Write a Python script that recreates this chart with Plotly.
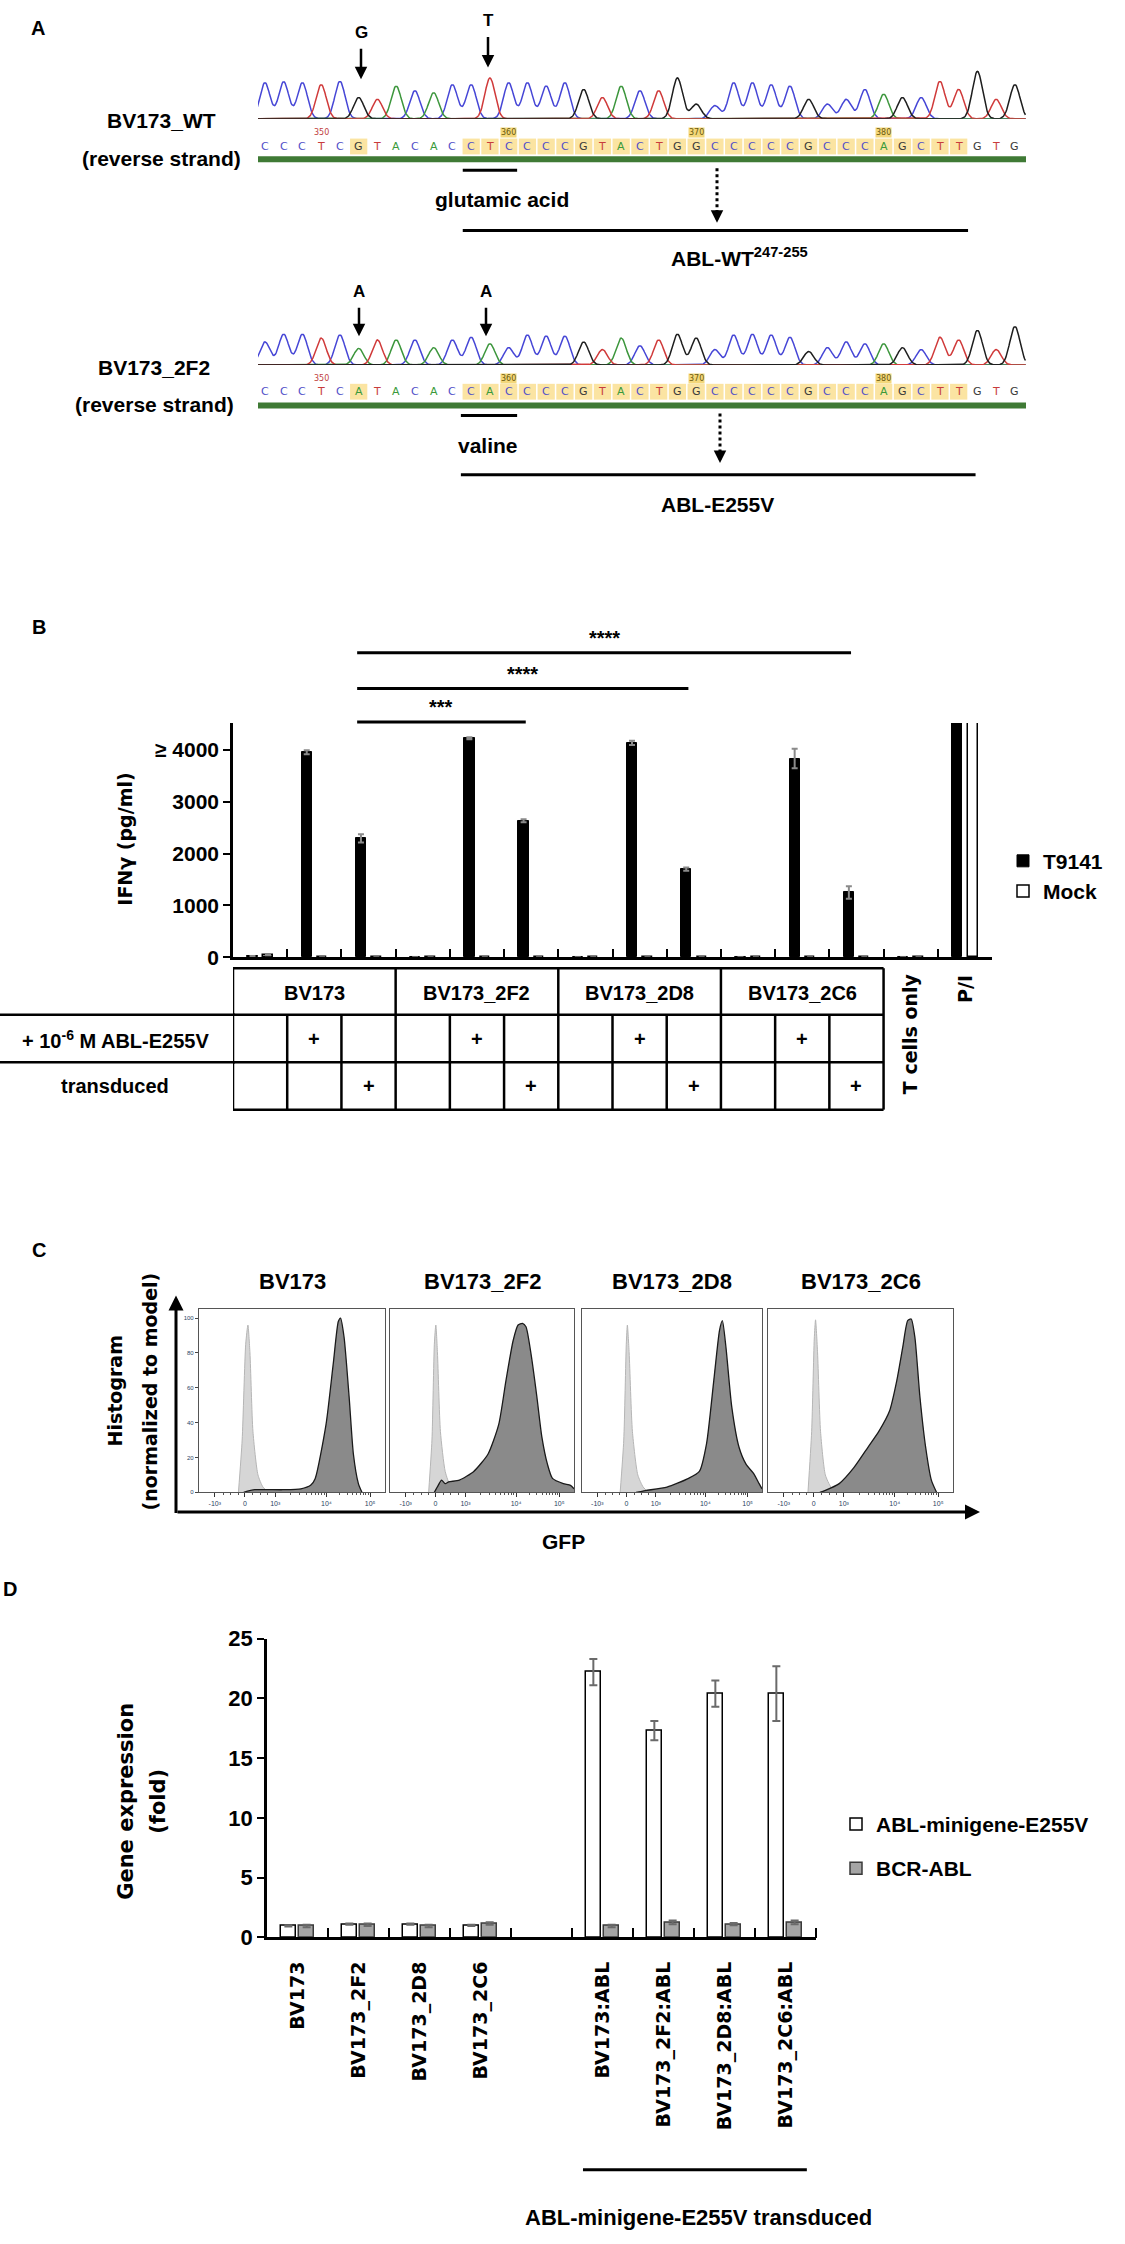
import numpy as np
import plotly.graph_objects as go

W, H = 1125, 2244


def fx(p):
    return p / W


def fy(p):
    return 1 - p / H


FONT = "Liberation Sans, Arial, sans-serif"
WIDE = "DejaVu Sans, Verdana, sans-serif"

# ---------------- A: sequencing traces
SEQ_WT = "CCCTCGTACACCTCCCCGTACTGGCCCCCGCCCAGCTTGTG"
SEQ_2F2 = "CCCTCATACACCACCCCGTACTGGCCCCCGCCCAGCTTGTG"
PEAKS_WT = [0.76, 0.78, 0.76, 0.72, 0.79, 0.45, 0.41, 0.69, 0.59, 0.55,
            0.72, 0.72, 0.86, 0.76, 0.76, 0.69, 0.76, 0.62, 0.45, 0.69,
            0.59, 0.59, 0.86, 0.31, 0.28, 0.76, 0.76, 0.72, 0.69, 0.41,
            0.31, 0.41, 0.62, 0.52, 0.45, 0.45, 0.79, 0.62, 1.0, 0.41, 0.72]
PEAKS_2F2 = [0.6, 0.8, 0.8, 0.7, 0.78, 0.43, 0.65, 0.65, 0.65, 0.45,
             0.65, 0.72, 0.55, 0.45, 0.78, 0.75, 0.75, 0.6, 0.4, 0.7,
             0.5, 0.65, 0.8, 0.7, 0.4, 0.78, 0.8, 0.78, 0.72, 0.35,
             0.45, 0.6, 0.55, 0.55, 0.45, 0.4, 0.72, 0.65, 0.9, 0.4, 1.0]
HIGHLIGHT = [5] + list(range(11, 38))
POS_LABELS = {3: "350", 13: "360", 23: "370", 33: "380"}
CODON = (11, 13)
EPITOPE = (11, 37)

BASE_LINE = {"A": "#3c963c", "C": "#4646d6", "G": "#1e1e1e", "T": "#d03a3a"}
BASE_TEXT = {"A": "#3a9a3a", "C": "#5050c8", "G": "#3a3a3a", "T": "#c83c3c"}

# ---------------- B: IFN-gamma release
IFN_T9141 = [20, 3950, 2290, 0, 4220, 2630, 0, 4130, 1700, 0, 3830, 1250, 0, 9000]
IFN_T9141_ERR = [5, 40, 80, 0, 20, 30, 0, 40, 30, 0, 190, 120, 0, 0]
IFN_MOCK = [45, 0, 0, 0, 0, 0, 0, 0, 0, 0, 0, 0, 0, 9000]
IFN_MOCK_ERR = [5, 0, 0, 0, 0, 0, 0, 0, 0, 0, 0, 0, 0, 0]
CELL_LINES = ["BV173", "BV173_2F2", "BV173_2D8", "BV173_2C6"]
PEPTIDE_ROW = ["", "+", ""] * 4
TRANSDUCED_ROW = ["", "", "+"] * 4
SIG = [(2, 5, "***"), (2, 8, "****"), (2, 11, "****")]

# ---------------- C: GFP histograms (logicle display position, % of max)
GFP_TITLES = ["BV173", "BV173_2F2", "BV173_2D8", "BV173_2C6"]
GFP_TICKS = [0.085, 0.247, 0.41, 0.685, 0.92]
GFP_TICKTEXT = ["-10³", "0", "10³", "10⁴", "10⁵"]
GFP_POS = [
    [0.24, 0.30, 0.45, 0.548, 0.60, 0.625, 0.683, 0.722, 0.749, 0.761, 0.780, 0.807, 0.830, 0.857, 0.876],
    [0.241, 0.262, 0.280, 0.300, 0.319, 0.377, 0.455, 0.533, 0.591, 0.630, 0.669, 0.696, 0.720, 0.739,
     0.767, 0.798, 0.825, 0.856, 0.883, 0.942, 0.981, 1.0],
    [0.30, 0.352, 0.472, 0.592, 0.652, 0.692, 0.732, 0.764, 0.78, 0.8, 0.832, 0.872, 0.912, 0.952, 0.984, 1.0],
    [0.28, 0.307, 0.385, 0.463, 0.541, 0.599, 0.658, 0.696, 0.728, 0.755, 0.774, 0.794, 0.821, 0.852, 0.883, 0.911],
]
GFP_PCT = [
    [0, 1.5, 1.5, 2, 4, 8, 39, 74, 98, 100, 89, 55, 22, 5, 0],
    [0, 4, 7, 5, 6, 7, 12, 22, 39, 64, 87, 96, 97, 95, 79, 55, 32, 16, 8, 5, 4, 2],
    [0, 1, 3, 8, 12, 28, 64, 93, 98.5, 83, 49, 26, 16, 11, 5, 2],
    [0, 1, 5, 14, 26, 35, 47, 64, 83, 98.5, 99.5, 89, 55, 26, 7, 0],
]
CTRL_POS = [
    [0.212, 0.232, 0.251, 0.263, 0.274, 0.29, 0.317, 0.344, 0.375],
    [0.21, 0.228, 0.241, 0.249, 0.258, 0.274, 0.30, 0.33, 0.36],
    [0.212, 0.232, 0.246, 0.252, 0.262, 0.28, 0.31, 0.34, 0.37],
    [0.216, 0.236, 0.25, 0.257, 0.268, 0.284, 0.31, 0.34, 0.37],
]
CTRL_PCT = [
    [0, 30, 85, 96, 80, 35, 10, 3, 0],
    [0, 30, 85, 96, 80, 35, 12, 3, 0],
    [0, 30, 85, 96, 80, 35, 10, 3, 0],
    [0, 35, 88, 99, 80, 35, 10, 3, 0],
]

# ---------------- D: qPCR
GENE_CATS = ["BV173", "BV173_2F2", "BV173_2D8", "BV173_2C6", "",
             "BV173:ABL", "BV173_2F2:ABL", "BV173_2D8:ABL", "BV173_2C6:ABL"]
GENE_MINI = [0.95, 1.1, 1.1, 1.0, None, 22.2, 17.3, 20.4, 20.4]
GENE_MINI_ERR = [0.05, 0.05, 0.05, 0.05, None, 1.1, 0.8, 1.1, 2.3]
GENE_BCR = [0.95, 1.05, 0.95, 1.15, None, 0.95, 1.25, 1.1, 1.25]
GENE_BCR_ERR = [0.1, 0.1, 0.1, 0.1, None, 0.1, 0.15, 0.1, 0.15]

fig = go.Figure()
ann = []
shp = []
lay = {}


def names(n):
    s = "" if n == 1 else str(n)
    return "x" + s, "y" + s, "xaxis" + s, "yaxis" + s


def txt(x, y, text, size, family=FONT, bold=True, color="black", xref="paper", **kw):
    if bold:
        text = "<b>" + text + "</b>"
    kw.setdefault("xanchor", "center")
    kw.setdefault("yanchor", "middle")
    ann.append(dict(x=x, y=y, xref=xref, yref="paper", text=text, showarrow=False,
                    font=dict(family=family, size=size, color=color), **kw))


def hline(x0, x1, y, width=3, xref="paper", dash="solid"):
    shp.append(dict(type="line", xref=xref, yref="paper", x0=x0, x1=x1, y0=fy(y), y1=fy(y),
                    line=dict(color="black", width=width, dash=dash)))


def vline(x, y0, y1, width=3, xref="paper", dash="solid"):
    shp.append(dict(type="line", xref=xref, yref="paper", x0=x, x1=x, y0=fy(y0), y1=fy(y1),
                    line=dict(color="black", width=width, dash=dash)))


def arrow(x, y_head, length, width=2.5, head=2):
    ann.append(dict(x=fx(x), y=fy(y_head), xref="paper", yref="paper", text="", showarrow=True,
                    ax=0, ay=-length, arrowhead=head, arrowsize=1, arrowwidth=width, arrowcolor="black"))


# ======== Panel A
def chromatogram(n, seq, peaks, base, scale, letter_y, num_y, bar_y):
    xr, yr, xk, yk = names(n)
    grid = np.arange(-0.4, len(seq) - 0.4, 0.04)
    shp.append(dict(type="line", xref=xr + " domain", yref=yr, x0=0, x1=1, y0=0, y1=0,
                    line=dict(color="#c85050", width=1.6), layer="below"))
    for b in "CATG":
        y = np.zeros_like(grid)
        for i, (c, h) in enumerate(zip(seq, peaks)):
            if c == b:
                y += h * np.exp(-0.5 * ((grid - i) / 0.27) ** 2)
        fig.add_trace(go.Scatter(x=grid, y=y, mode="lines", xaxis=xr, yaxis=yr,
                                 line=dict(color=BASE_LINE[b], width=1.5),
                                 showlegend=False, hoverinfo="skip"))
    idx = list(range(len(seq)))
    fig.add_trace(go.Scatter(x=idx, y=[-6 / scale] * len(seq), mode="markers", xaxis=xr, yaxis=yr,
                             marker=dict(symbol="line-ns", size=7,
                                         line=dict(width=1.6, color=[BASE_LINE[c] for c in seq])),
                             cliponaxis=False, showlegend=False, hoverinfo="skip"))
    for i in HIGHLIGHT:
        shp.append(dict(type="rect", xref=xr, yref="paper", x0=i - 0.46, x1=i + 0.46,
                        y0=fy(letter_y + 8), y1=fy(letter_y - 8), fillcolor="#fbe4a2",
                        line=dict(width=0), layer="below"))
    for i, c in enumerate(seq):
        txt(i, fy(letter_y), c, 11, family=WIDE, bold=False, color=BASE_TEXT[c], xref=xr)
    for i, lab in POS_LABELS.items():
        if lab == "350":
            txt(i, fy(num_y), lab, 8, family=WIDE, bold=False, color="#c04040", xref=xr)
        else:
            txt(i, fy(num_y), lab, 8, family=WIDE, bold=False, color="#6b5a10", xref=xr,
                bgcolor="#f3d77a", borderpad=0)
    shp.append(dict(type="rect", xref="paper", yref="paper", x0=fx(258), x1=fx(1026),
                    y0=fy(bar_y + 3), y1=fy(bar_y - 3), fillcolor="#3f7a35", line=dict(width=0)))
    lay[xk] = dict(domain=[fx(258), fx(1026)], range=[-0.37, 40.59], visible=False, anchor=yr)
    lay[yk] = dict(domain=[fy(base), fy(base - scale * 1.08)], range=[0, 1.08], visible=False, anchor=xr)
    return xr


xw = chromatogram(1, SEQ_WT, PEAKS_WT, 108, 48, 136, 122, 149)
x2f = chromatogram(2, SEQ_2F2, PEAKS_2F2, 357, 39, 384, 371, 398)

txt(fx(38), fy(16), "A", 20)
txt(fx(161), fy(110), "BV173_WT", 21)
txt(fx(161), fy(148), "(reverse strand)", 21)
txt(fx(361), fy(21), "G", 17)
txt(fx(488), fy(9), "T", 17)
arrow(361, 68, 32)
arrow(488, 56, 32)
hline(CODON[0] - 0.45, CODON[1] + 0.45, 160, xref=xw)
txt(fx(502), fy(190), "glutamic acid", 21)
vline(fx(717), 158, 202, dash="dot")
arrow(717, 213, 14)
hline(EPITOPE[0] - 0.45, EPITOPE[1] + 0.5, 221, xref=xw)
txt(fx(739), fy(248), "ABL-WT<sup>247-255</sup>", 21)

txt(fx(154), fy(360), "BV173_2F2", 21)
txt(fx(154), fy(397), "(reverse strand)", 21)
txt(fx(359), fy(283), "A", 17)
txt(fx(486), fy(283), "A", 17)
arrow(359, 328, 30)
arrow(486, 328, 30)
hline(CODON[0] - 0.55, CODON[1] + 0.45, 408, xref=x2f)
txt(fx(488), fy(438), "valine", 21)
vline(fx(720), 406, 445, dash="dot")
arrow(720, 456, 14)
hline(EPITOPE[0] - 0.55, EPITOPE[1] + 0.9, 468, xref=x2f)
txt(fx(717), fy(498), "ABL-E255V", 21)

# ======== Panel B
xb = list(range(len(IFN_T9141)))
fig.add_trace(go.Bar(x=xb, y=IFN_T9141, width=0.19, offset=-0.235, name="<b>T9141</b>",
                     marker=dict(color="black", line=dict(color="black", width=1)),
                     error_y=dict(type="data", array=IFN_T9141_ERR, color="#8a8a8a", thickness=2, width=3),
                     xaxis="x3", yaxis="y3", legend="legend"))
fig.add_trace(go.Bar(x=xb, y=IFN_MOCK, width=0.19, offset=0.05, name="<b>Mock</b>",
                     marker=dict(color="white", line=dict(color="black", width=1.5)),
                     error_y=dict(type="data", array=IFN_MOCK_ERR, color="#8a8a8a", thickness=2, width=3),
                     xaxis="x3", yaxis="y3", legend="legend"))
lay["xaxis3"] = dict(domain=[fx(233), fx(992)], range=[-0.5, 13.5], anchor="y3",
                     tickmode="array", tickvals=[i + 0.5 for i in range(14)], showticklabels=False,
                     ticks="inside", ticklen=9, tickwidth=2, tickcolor="black",
                     showline=True, linecolor="black", linewidth=2.5, showgrid=False, zeroline=False)
lay["yaxis3"] = dict(domain=[fy(956), fy(719)], range=[0, 4514], anchor="x3",
                     tickmode="array", tickvals=[0, 1000, 2000, 3000, 4000],
                     ticktext=["<b>0</b>", "<b>1000</b>", "<b>2000</b>", "<b>3000</b>", "<b>≥ 4000</b>"],
                     tickfont=dict(family=FONT, size=21, color="black"),
                     ticks="outside", ticklen=7, tickwidth=2, tickcolor="black",
                     showline=True, linecolor="black", linewidth=2.5, showgrid=False, zeroline=False)
txt(fx(39), fy(622), "B", 20)
txt(fx(125), fy(837), "IFNγ (pg/ml)", 19, family=WIDE, textangle=-90)

sig_y = {5: 718, 8: 684, 11: 648}
for a, b, stars in SIG:
    hline(a - 0.21, b - 0.1, sig_y[b], xref="x3")
    txt((a - 0.21 + b - 0.1) / 2, fy(sig_y[b] - 15), stars, 20, xref="x3")

# table below bars
for y in (967, 1014, 1062, 1110):
    hline(-0.5, 11.5, y, width=2.5, xref="x3")
for y in (1014, 1062):
    hline(0, fx(235), y, width=2.5)
for xv in (-0.5, 2.5, 5.5, 8.5, 11.5):
    vline(xv, 967, 1110, width=2.5, xref="x3")
for xv in (0.5, 1.5, 3.5, 4.5, 6.5, 7.5, 9.5, 10.5):
    vline(xv, 1014, 1110, width=2.5, xref="x3")
for k, name in enumerate(CELL_LINES):
    txt(3 * k + 1, fy(992), name, 20, xref="x3")
for i, (p, t) in enumerate(zip(PEPTIDE_ROW, TRANSDUCED_ROW)):
    if p:
        txt(i, fy(1039), p, 20, xref="x3")
    if t:
        txt(i, fy(1086), t, 20, xref="x3")
txt(fx(115), fy(1039), "+ 10<sup>-6</sup> M ABL-E255V", 20)
txt(fx(115), fy(1086), "transduced", 20)
txt(12, fy(1033), "T cells only", 19, family=WIDE, xref="x3", textangle=-90)
txt(13, fy(988), "P/I", 19, family=WIDE, xref="x3", textangle=-90)

# ======== Panel C
BOXES = [(199, 385), (390, 574), (582, 762), (768, 953)]
minor = []
for base, span in ((0.41, 0.275), (0.685, 0.235)):
    minor += [base + span * np.log10(k) for k in range(2, 10)]
minor += [0.13, 0.17, 0.21, 0.29, 0.33, 0.37]
for k, (x0, x1) in enumerate(BOXES):
    n = 4 + k
    xr, yr, xk, yk = names(n)
    fig.add_trace(go.Scatter(x=CTRL_POS[k], y=CTRL_PCT[k], mode="lines", fill="tozeroy",
                             line=dict(color="#b5b5b5", width=1, shape="spline", smoothing=0.6),
                             fillcolor="#d6d6d6", xaxis=xr, yaxis=yr, showlegend=False, hoverinfo="skip"))
    fig.add_trace(go.Scatter(x=GFP_POS[k], y=GFP_PCT[k], mode="lines", fill="tozeroy",
                             line=dict(color="#1a1a1a", width=1.3, shape="spline", smoothing=0.6),
                             fillcolor="#8a8a8a", xaxis=xr, yaxis=yr, showlegend=False, hoverinfo="skip"))
    lay[xk] = dict(domain=[fx(x0), fx(x1)], range=[0, 1], anchor=yr, tickmode="array",
                   tickvals=GFP_TICKS, ticktext=GFP_TICKTEXT, tickfont=dict(family=FONT, size=7),
                   ticks="outside", ticklen=4, tickcolor="#333",
                   minor=dict(tickmode="array", tickvals=minor, ticks="outside", ticklen=2, tickcolor="#555"),
                   showline=True, mirror=True, linecolor="#555", linewidth=1.3, showgrid=False, zeroline=False)
    lay[yk] = dict(domain=[fy(1497), fy(1312)], range=[0, 105], anchor=xr, tickmode="array",
                   tickvals=[0, 20, 40, 60, 80, 100], showticklabels=(k == 0),
                   tickfont=dict(family=FONT, size=6), ticks="outside" if k == 0 else "", ticklen=3,
                   showline=True, mirror=True, linecolor="#555", linewidth=1.3, showgrid=False, zeroline=False)
    txt(fx((x0 + x1) / 2), fy(1284), GFP_TITLES[k], 22)

txt(fx(39), fy(1252), "C", 20)
ann.append(dict(x=fx(176), y=fy(1298), xref="paper", yref="paper", text="", showarrow=True,
                ax=0, ay=219, arrowhead=2, arrowsize=1, arrowwidth=3, arrowcolor="black"))
ann.append(dict(x=fx(980), y=fy(1517), xref="paper", yref="paper", text="", showarrow=True,
                ax=-804, ay=0, arrowhead=2, arrowsize=1, arrowwidth=3, arrowcolor="black"))
txt(fx(115), fy(1395), "Histogram", 19, family=WIDE, textangle=-90)
txt(fx(150), fy(1395), "(normalized to model)", 19, family=WIDE, textangle=-90)
txt(fx(563), fy(1547), "GFP", 21)

# ======== Panel D
xd = list(range(len(GENE_CATS)))
fig.add_trace(go.Bar(x=xd, y=GENE_MINI, width=0.24, offset=-0.27, name="<b>ABL-minigene-E255V</b>",
                     marker=dict(color="white", line=dict(color="black", width=1.5)),
                     error_y=dict(type="data", array=GENE_MINI_ERR, color="#6a6a6a", thickness=2, width=4),
                     xaxis="x8", yaxis="y8", legend="legend2", legendgroup="a"))
fig.add_trace(go.Bar(x=xd, y=GENE_BCR, width=0.24, offset=0.03, name="<b>BCR-ABL</b>",
                     marker=dict(color="#a5a5a5", line=dict(color="#3a3a3a", width=1.5)),
                     error_y=dict(type="data", array=GENE_BCR_ERR, color="#6a6a6a", thickness=2, width=4),
                     xaxis="x8", yaxis="y8", legend="legend2", legendgroup="b"))
lay["xaxis8"] = dict(domain=[fx(267), fx(816)], range=[-0.5, 8.5], anchor="y8",
                     tickmode="array", tickvals=xd,
                     ticktext=["<b>" + c + "</b>" if c else "" for c in GENE_CATS],
                     tickangle=-90, tickfont=dict(family=WIDE, size=19, color="black"),
                     ticks="", ticklabelstandoff=14,
                     minor=dict(tickmode="array", tickvals=[i + 0.5 for i in range(9)],
                                ticks="inside", ticklen=10, tickwidth=2, tickcolor="black"),
                     showline=True, linecolor="black", linewidth=2.5, showgrid=False, zeroline=False)
lay["yaxis8"] = dict(domain=[fy(1947), fy(1645)], range=[0, 25], anchor="x8",
                     tickmode="array", tickvals=[0, 5, 10, 15, 20, 25],
                     ticktext=["<b>%d</b>" % v for v in [0, 5, 10, 15, 20, 25]],
                     tickfont=dict(family=FONT, size=22, color="black"),
                     ticks="outside", ticklen=7, tickwidth=2, tickcolor="black",
                     showline=True, linecolor="black", linewidth=2.5, showgrid=False, zeroline=False)
txt(fx(10), fy(1595), "D", 20)
txt(fx(126), fy(1810), "Gene expression", 21, family=WIDE, textangle=-90)
txt(fx(158), fy(1810), "(fold)", 21, family=WIDE, textangle=-90)
hline(4.68, 8.35, 2182, xref="x8")
txt(fx(698), fy(2230), "ABL-minigene-E255V transduced", 22)

fig.update_layout(
    width=W, height=H, margin=dict(l=0, r=0, t=0, b=0),
    paper_bgcolor="white", plot_bgcolor="white",
    barmode="overlay", bargap=0,
    annotations=ann, shapes=shp,
    legend=dict(x=fx(1003), y=fy(838), xanchor="left", yanchor="top",
                font=dict(family=FONT, size=21, color="black"), bgcolor="rgba(0,0,0,0)"),
    legend2=dict(x=fx(836), y=fy(1812), xanchor="left", yanchor="top", traceorder="grouped",
                 tracegroupgap=14, font=dict(family=FONT, size=21, color="black"),
                 bgcolor="rgba(0,0,0,0)"),
    **lay,
)

# keep the figure flush with the page corner, no toolbar
fig.write_html("out.html", config={"displayModeBar": False},
               post_script="document.body.style.margin='0';document.body.style.overflow='hidden';")
